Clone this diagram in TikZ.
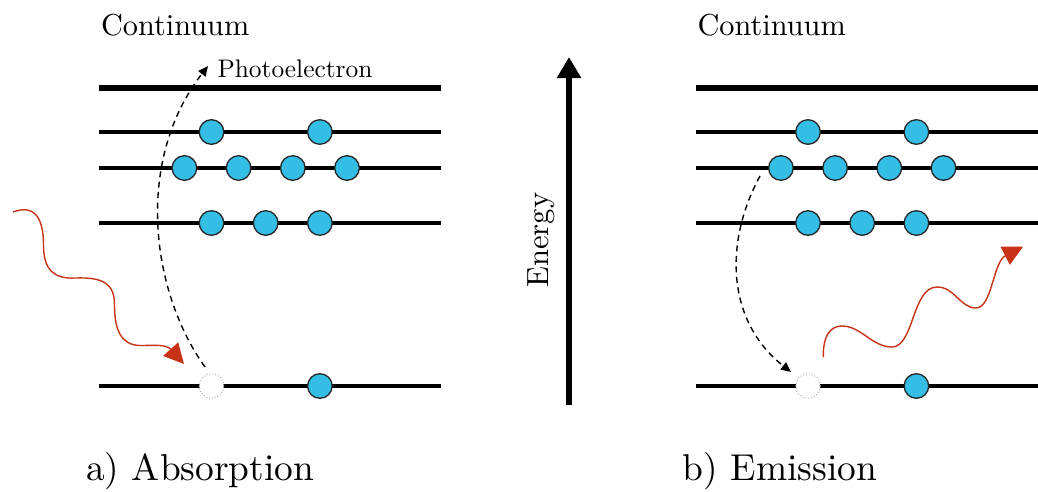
\documentclass[tikz,border=0pt]{standalone}
\usetikzlibrary{arrows.meta}
\definecolor{elec}{RGB}{52,190,230}
\definecolor{photon}{RGB}{200,50,22}
\begin{document}
\begin{tikzpicture}[x=1pt,y=-1pt,
  level/.style={line width=3.6pt},
  toplevel/.style={line width=6.5pt},
  electron/.style={circle, draw=black!85, line width=1.3pt, fill=elec, minimum size=24.6pt, inner sep=0pt},
  hole/.style={circle, draw=black!35, dotted, line width=0.9pt, fill=white, minimum size=24.6pt, inner sep=0pt},
  jump/.style={line width=1.4pt, dash pattern=on 6pt off 4.5pt, -{Triangle[length=10pt,width=9pt]}},
  photonline/.style={draw=photon, line width=1.4pt, -{Triangle[length=20pt,width=20pt,fill=photon]}},
  lbl/.style={inner sep=0pt, anchor=base west}]
\useasboundingbox (0,0) rectangle (1038,491);

% ---------- left panel: levels ----------
\draw[toplevel] (99,88) -- (441,88);
\draw[level] (99,132) -- (441,132);
\draw[level] (99,168) -- (441,168);
\draw[level] (99,223) -- (441,223);
\draw[level] (99,386) -- (441,386);

% ---------- right panel: levels ----------
\draw[toplevel] (695.5,88) -- (1037.5,88);
\draw[level] (695.5,132) -- (1037.5,132);
\draw[level] (695.5,168) -- (1037.5,168);
\draw[level] (695.5,223) -- (1037.5,223);
\draw[level] (695.5,386) -- (1037.5,386);

% ---------- energy axis ----------
\coordinate (ebot) at (569,405);
\coordinate (etop) at (569,57);
\draw[line width=5.5pt, -{Triangle[length=21pt,width=23pt]}] (ebot) -- (etop);
\node[inner sep=0pt, scale=3.06, rotate=90, anchor=base] (energy) at (548,240) {Energy};

% ---------- left electrons ----------
\node[electron] (a11) at (211.5,132) {};
\node[electron] (a12) at (319.9,132) {};
\node[electron] (a21) at (184.4,168) {};
\node[electron] (a22) at (238.6,168) {};
\node[electron] (a23) at (292.8,168) {};
\node[electron] (a24) at (347.0,168) {};
\node[electron] (a31) at (211.5,223) {};
\node[electron] (a32) at (265.7,223) {};
\node[electron] (a33) at (319.9,223) {};
\node[hole]     (ah)  at (211.5,386) {};
\node[electron] (a41) at (319.9,386) {};

% ---------- right electrons ----------
\node[electron] (b11) at (808.0,132) {};
\node[electron] (b12) at (916.4,132) {};
\node[electron] (b21) at (780.9,168) {};
\node[electron] (b22) at (835.1,168) {};
\node[electron] (b23) at (889.3,168) {};
\node[electron] (b24) at (943.5,168) {};
\node[electron] (b31) at (808.0,223) {};
\node[electron] (b32) at (862.2,223) {};
\node[electron] (b33) at (916.4,223) {};
\node[hole]     (bh)  at (808.0,386) {};
\node[electron] (b41) at (916.4,386) {};

% ---------- texts ----------
\node[lbl, scale=3.03] (cont1) at (100.5,35) {Continuum};
\node[lbl, scale=3.03] (cont2) at (697,35) {Continuum};
\node[lbl, scale=2.54] (photo) at (217,77) {Photoelectron};
\node[lbl, scale=3.74] (capa) at (85.5,480) {a) Absorption};
\node[lbl, scale=3.74] (capb) at (682,480) {b) Emission};

% ---------- dashed transitions ----------
\coordinate (js1) at (205,367);
\coordinate (je1) at (208,66);
\draw[jump] (js1) .. controls (150,290) and (135,160) .. (je1);
\coordinate (js2) at (760,176);
\coordinate (je2) at (791,372);
\draw[jump] (js2) .. controls (725,240) and (725,320) .. (je2);

% ---------- photons ----------
\coordinate (pa0) at (13,212);
\coordinate (pa1) at (184,364);
\draw[photonline] (pa0)
  .. controls (37,203) and (43.5,222) .. (43.5,245)
  .. controls (43.5,270) and (54,279) .. (75,278)
  .. controls (104,277) and (114.5,284) .. (114.5,305)
  .. controls (114.5,330) and (121,345) .. (140,345.5)
  .. controls (154,345.5) and (166,344) .. (pa1);
\coordinate (pb0) at (823.3,357);
\coordinate (pb1) at (1023,246.7);
\draw[photonline] (pb0)
  .. controls (823,336) and (830,326) .. (842,326)
  .. controls (861,326) and (872,347) .. (892,347)
  .. controls (914,347) and (912,287) .. (937,287)
  .. controls (955,287) and (960,308) .. (976,308)
  .. controls (992,308) and (993,262) .. (pb1);
\end{tikzpicture}
\end{document}
